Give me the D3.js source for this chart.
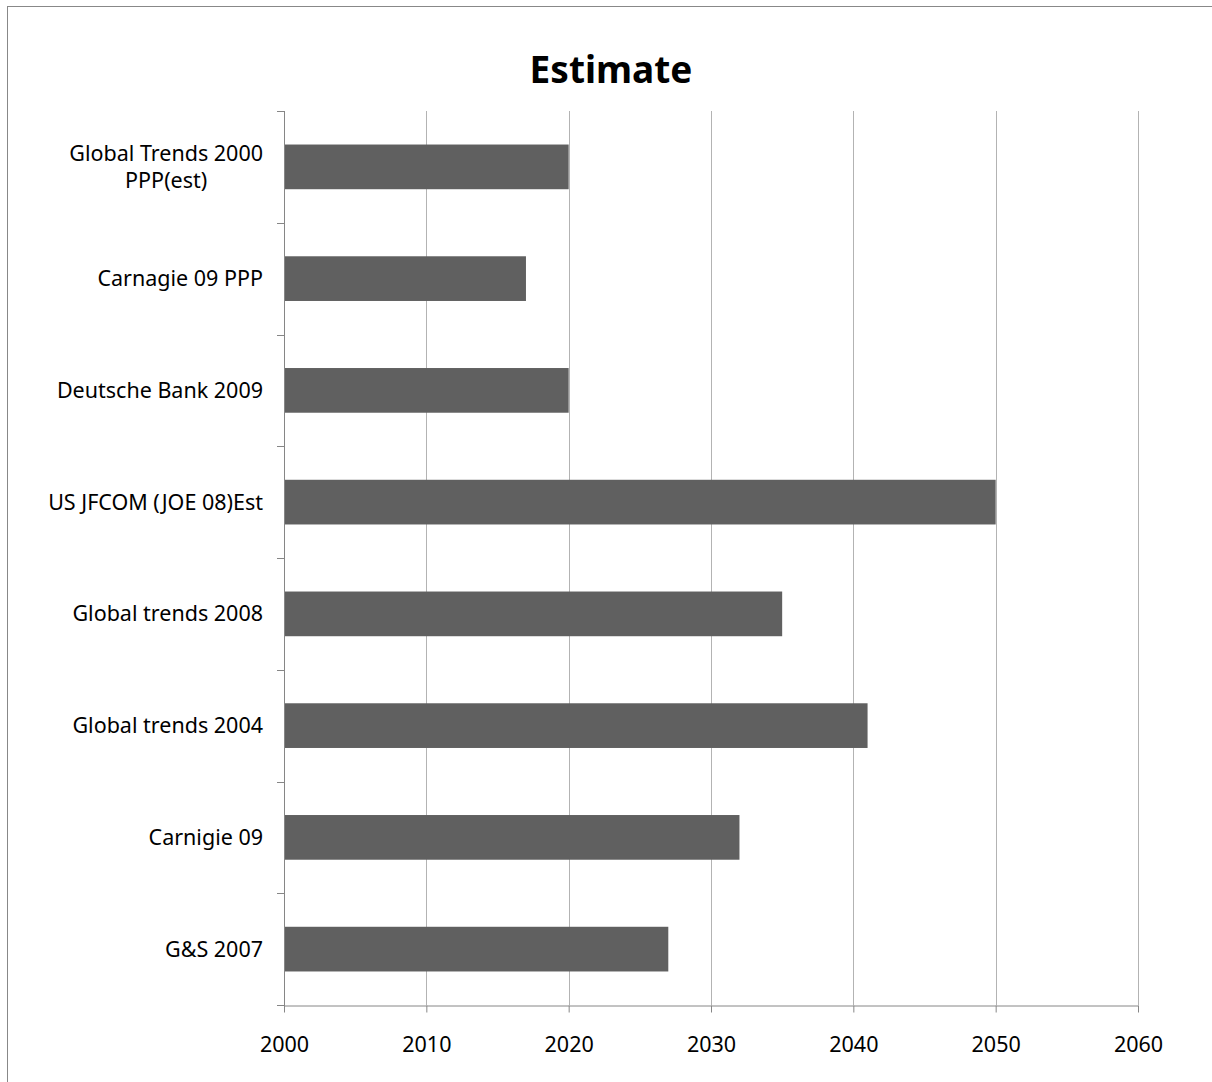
<!DOCTYPE html>
<html>
<head>
<meta charset="utf-8">
<script src="https://cdn.jsdelivr.net/npm/d3@7"></script>
<style>
  body { margin: 0; background: #fff; }
  svg { display: block; }
</style>
</head>
<body>
<div id="chart"></div>
<script>
const categories = [
  ['Global Trends 2000', 'PPP(est)'],
  ['Carnagie 09 PPP'],
  ['Deutsche Bank 2009'],
  ['US JFCOM (JOE 08)Est'],
  ['Global trends 2008'],
  ['Global trends 2004'],
  ['Carnigie 09'],
  ['G&S 2007']
]
const values = [2020, 2017, 2020, 2050, 2035, 2041, 2032, 2027]
const xTicks = [2000, 2010, 2020, 2030, 2040, 2050, 2060]

const width = 1212, height = 1082
const margin = { top: 111, right: 74, bottom: 77, left: 284 }
const font = "'Noto Sans', 'Open Sans', sans-serif"
const labelSize = 21.5

const svg = d3.select('#chart').append('svg')
  .attr('width', width)
  .attr('height', height)

// outer chart border
svg.append('rect')
  .attr('x', 7.5).attr('y', 6.5)
  .attr('width', width).attr('height', height)
  .attr('fill', 'none')
  .attr('stroke', '#888')
  .attr('stroke-width', 1)

const x = d3.scaleLinear()
  .domain([2000, 2060])
  .range([margin.left, width - margin.right])

const y = d3.scaleBand()
  .domain(d3.range(categories.length))
  .range([margin.top, height - margin.bottom])
  .paddingInner(0.6)
  .paddingOuter(0.3)

const step = y.step()
const innerTop = margin.top, innerBottom = height - margin.bottom

// vertical grid lines
svg.append('g')
  .selectAll('line')
  .data(xTicks.slice(1))
  .join('line')
  .attr('x1', d => Math.round(x(d)) + 0.5)
  .attr('x2', d => Math.round(x(d)) + 0.5)
  .attr('y1', innerTop)
  .attr('y2', innerBottom)
  .attr('stroke', '#b3b3b3')

// bars
svg.append('g')
  .selectAll('rect')
  .data(values)
  .join('rect')
  .attr('x', x(2000))
  .attr('y', (d, i) => y(i))
  .attr('width', d => x(d) - x(2000))
  .attr('height', y.bandwidth())
  .attr('fill', '#606060')

// x axis
svg.append('g')
  .attr('transform', `translate(0, ${innerBottom + 0.5})`)
  .call(d3.axisBottom(x).tickValues(xTicks).tickFormat(d3.format('d')).tickSize(7).tickSizeOuter(0).tickPadding(24))
  .call(g => g.select('.domain').attr('stroke', '#868686'))
  .call(g => g.selectAll('.tick line').attr('stroke', '#868686'))
  .call(g => g.selectAll('.tick text')
    .attr('font-family', font)
    .attr('font-size', labelSize)
    .attr('fill', '#000'))

// y axis line with ticks on band boundaries
const yAxis = svg.append('g')
yAxis.append('line')
  .attr('x1', margin.left + 0.5).attr('x2', margin.left + 0.5)
  .attr('y1', innerTop).attr('y2', innerBottom + 7)
  .attr('stroke', '#868686')
yAxis.selectAll('.ytick')
  .data(d3.range(categories.length + 1))
  .join('line')
  .attr('class', 'ytick')
  .attr('x1', margin.left - 7).attr('x2', margin.left)
  .attr('y1', i => Math.round(innerTop + i * step) + 0.5)
  .attr('y2', i => Math.round(innerTop + i * step) + 0.5)
  .attr('stroke', '#868686')

// category labels, multi-line labels are centred on the widest line
const lineH = 27
svg.append('g')
  .selectAll('text')
  .data(categories)
  .join('text')
  .attr('font-family', font)
  .attr('font-size', labelSize)
  .attr('fill', '#000')
  .attr('transform', (d, i) => `translate(${margin.left - 21}, ${y(i) + y.bandwidth() / 2})`)
  .each(function(lines) {
    const t = d3.select(this)
    const spans = lines.map((ln, k) => t.append('tspan')
      .attr('x', 0)
      .attr('y', (k - (lines.length - 1) / 2) * lineH)
      .attr('dy', '0.35em')
      .text(ln))
    if (lines.length === 1) {
      t.attr('text-anchor', 'end')
    } else {
      const w = d3.max(spans, s => s.node().getComputedTextLength())
      t.attr('text-anchor', 'middle')
      spans.forEach(s => s.attr('x', -w / 2))
    }
  })

// title
svg.append('text')
  .attr('x', 611)
  .attr('y', 83)
  .attr('text-anchor', 'middle')
  .attr('font-family', font)
  .attr('font-weight', 'bold')
  .attr('font-size', 37)
  .attr('fill', '#000')
  .text('Estimate')
</script>
</body>
</html>
